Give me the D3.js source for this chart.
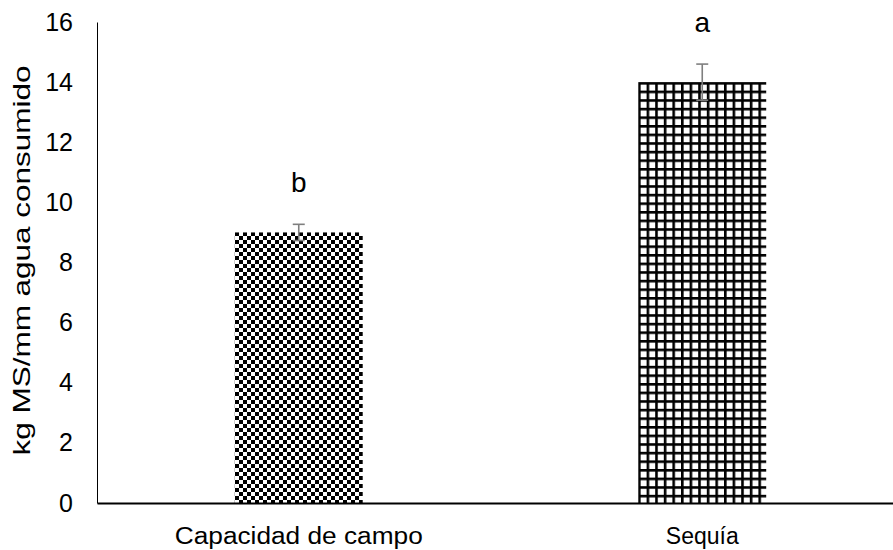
<!DOCTYPE html>
<html>
<head>
<meta charset="utf-8">
<script src="https://cdn.jsdelivr.net/npm/d3@7/dist/d3.min.js"></script>
<style>
  html, body { margin: 0; padding: 0; background: #fff; }
  svg { display: block; font-family: "Liberation Sans", Arial, sans-serif; }
</style>
</head>
<body>
<svg id="chart" width="893" height="550"></svg>
<script>
const categories = ["Capacidad de campo", "Sequía"];
const values = [9.0, 14.0];
const errors = [0.27, 0.6];
const letters = ["b", "a"];
const yTicks = [0, 2, 4, 6, 8, 10, 12, 14, 16];
const yTitle = "kg MS/mm agua consumido";

const svg = d3.select("#chart");
const W = 893, H = 550;
const margin = { left: 97, top: 22, bottom: 47 };
const plotBottom = H - margin.bottom; // 503

const x = d3.scaleBand().domain(categories).range([97, 904]).paddingInner(0.683).paddingOuter(0.3415);
const y = d3.scaleLinear().domain([0, 16]).range([plotBottom, margin.top]);

// Patterns
const defs = svg.append("defs");
const chk = defs.append("pattern").attr("id", "checker").attr("patternUnits", "userSpaceOnUse")
  .attr("width", 8).attr("height", 8).attr("x", 235).attr("y", 0);
chk.append("rect").attr("width", 8).attr("height", 8).attr("fill", "#fff");
chk.append("rect").attr("x", 0).attr("y", 0).attr("width", 4).attr("height", 4).attr("fill", "#000");
chk.append("rect").attr("x", 4).attr("y", 4).attr("width", 4).attr("height", 4).attr("fill", "#000");

const grid = defs.append("pattern").attr("id", "grid").attr("patternUnits", "userSpaceOnUse")
  .attr("width", 8.6).attr("height", 8.6).attr("x", 638).attr("y", 82);
grid.append("rect").attr("width", 8.6).attr("height", 8.6).attr("fill", "#fff");
grid.append("rect").attr("x", 0).attr("y", 0).attr("width", 2.6).attr("height", 8.6).attr("fill", "#000");
grid.append("rect").attr("x", 0).attr("y", 0).attr("width", 8.6).attr("height", 2.6).attr("fill", "#000");

const fills = ["url(#checker)", "url(#grid)"];

// Bars
svg.selectAll("rect.bar").data(categories).enter().append("rect")
  .attr("class", "bar")
  .attr("x", d => x(d))
  .attr("width", x.bandwidth())
  .attr("y", (d, i) => y(values[i]))
  .attr("height", (d, i) => plotBottom - y(values[i]))
  .attr("fill", (d, i) => fills[i]);

// Error bars
const eb = svg.selectAll("g.err").data(categories).enter().append("g").attr("class", "err")
  .attr("stroke", "#7f7f7f").attr("stroke-width", 1.6);
eb.append("line")
  .attr("x1", d => x(d) + x.bandwidth() / 2).attr("x2", d => x(d) + x.bandwidth() / 2)
  .attr("y1", (d, i) => y(values[i] + errors[i])).attr("y2", (d, i) => y(values[i] - errors[i]));
eb.append("line")
  .attr("x1", d => x(d) + x.bandwidth() / 2 - 6).attr("x2", d => x(d) + x.bandwidth() / 2 + 6)
  .attr("y1", (d, i) => y(values[i] + errors[i])).attr("y2", (d, i) => y(values[i] + errors[i]));
eb.append("line")
  .attr("x1", d => x(d) + x.bandwidth() / 2 - 6).attr("x2", d => x(d) + x.bandwidth() / 2 + 6)
  .attr("y1", (d, i) => y(values[i] - errors[i])).attr("y2", (d, i) => y(values[i] - errors[i]));

// Letters
svg.selectAll("text.letter").data(categories).enter().append("text")
  .attr("class", "letter")
  .attr("x", d => x(d) + x.bandwidth() / 2)
  .attr("y", (d, i) => y(values[i] + errors[i]) - 32)
  .attr("text-anchor", "middle")
  .attr("font-size", 28)
  .attr("fill", "#000")
  .text((d, i) => letters[i]);

// Y axis
const yAxis = d3.axisLeft(y).tickValues(yTicks).tickSize(0).tickPadding(24);
const gy = svg.append("g").attr("transform", `translate(97,0)`).call(yAxis);
gy.select(".domain").attr("stroke", "#000").attr("stroke-width", 1);
gy.selectAll(".tick text").attr("font-size", 25).attr("fill", "#000")
  .attr("font-family", "Liberation Sans, Arial, sans-serif");

// X axis
const xAxis = d3.axisBottom(x).tickSize(0).tickPadding(25);
const gx = svg.append("g").attr("transform", `translate(0,${plotBottom})`).call(xAxis);
gx.select(".domain").attr("stroke", "#000").attr("stroke-width", 2);
gx.selectAll(".tick text").attr("font-size", 23).attr("fill", "#000")
  .attr("font-family", "Liberation Sans, Arial, sans-serif")
  .attr("textLength", (d, i) => i === 0 ? 248 : null)
  .attr("lengthAdjust", "spacingAndGlyphs");

// Y title
svg.append("text")
  .attr("transform", `translate(30,${(margin.top + plotBottom) / 2 - 2}) rotate(-90)`)
  .attr("text-anchor", "middle")
  .attr("font-size", 24)
  .attr("textLength", 390)
  .attr("lengthAdjust", "spacingAndGlyphs")
  .attr("fill", "#000")
  .text(yTitle);
</script>
</body>
</html>
